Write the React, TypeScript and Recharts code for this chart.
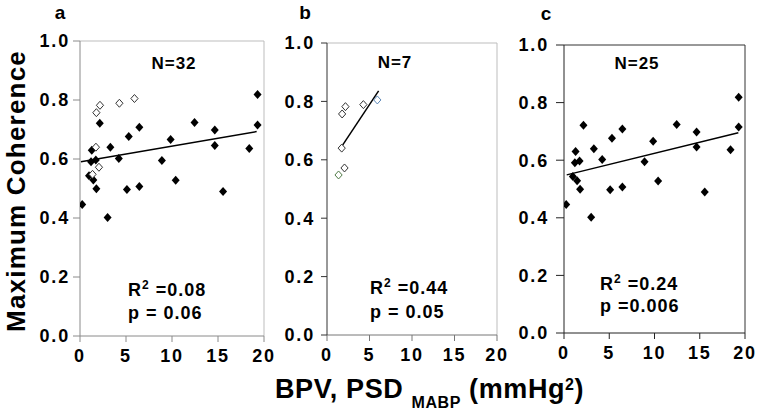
import { ScatterChart, Scatter, XAxis, YAxis, ReferenceLine, Cell } from "recharts";

const FONT = "'Liberation Sans', Arial, Helvetica, sans-serif";

const xTicks = [0, 5, 10, 15, 20];
const yTicks = [0, 0.2, 0.4, 0.6, 0.8, 1.0];

// filled diamonds (N=25), same subjects in panels a and c
const filledBpv = [
  0.24, 3.0, 1.28, 1.2, 1.72, 0.98, 1.45, 1.78, 2.15, 3.3, 4.22, 5.1, 5.3,
  6.45, 6.45, 8.9, 9.85, 10.4, 12.45, 14.65, 14.65, 15.55, 18.4, 19.3, 19.3,
];
const filledCoh = [
  0.446, 0.402, 0.63, 0.591, 0.597, 0.543, 0.529, 0.499, 0.721, 0.64, 0.602,
  0.497, 0.676, 0.708, 0.507, 0.595, 0.666, 0.528, 0.724, 0.698, 0.646, 0.49,
  0.636, 0.819, 0.715,
];

// open diamonds (N=7), panels a and b
const openBpv = [1.78, 2.17, 4.28, 5.92, 1.73, 2.06, 1.36];
const openCoh = [0.757, 0.782, 0.789, 0.805, 0.64, 0.572, 0.548];
const openStrokeB = ["#333", "#333", "#333", "#5b87b8", "#333", "#333", "#4f7a45"];

// regression line end points
const fitAX = [0.1, 19.2];
const fitAY = [0.591, 0.693];
const fitBX = [1.6, 6.07];
const fitBY = [0.64, 0.836];
const fitCX = [0.3, 19.26];
const fitCY = [0.549, 0.695];

const filledData = filledBpv.map((x, i) => ({ x, y: filledCoh[i] }));
const openData = openBpv.map((x, i) => ({ x, y: openCoh[i] }));

const FilledDiamond = (p: any) => (
  <path
    d={`M${p.cx},${p.cy - 4.5}L${p.cx + 4},${p.cy}L${p.cx},${p.cy + 4.5}L${p.cx - 4},${p.cy}Z`}
    fill="#000"
  />
);

const OpenDiamond = (p: any) => (
  <path
    d={`M${p.cx},${p.cy - 4}L${p.cx + 3.6},${p.cy}L${p.cx},${p.cy + 4}L${p.cx - 3.6},${p.cy}Z`}
    fill="#fff"
    stroke={p.stroke || "#333"}
    strokeWidth={1}
  />
);

interface PanelProps {
  left: number;
  width: number;
  plotTop: number;
  plotBottom: number;
  plotLeft: number;
  plotRight: number;
  axisColor: string;
  bottomColor: string;
  frameColor: string;
  tickSize: number;
  tickMargin: number;
  filled?: boolean;
  open?: boolean;
  openStrokes?: string[];
  fitX: number[];
  fitY: number[];
}

const HEIGHT = 385;

function Panel(props: PanelProps) {
  const tickStyle = {
    fontFamily: FONT,
    fontWeight: 700,
    fontSize: 18,
    fill: "#000",
    letterSpacing: 1.8,
  };
  return (
    <div style={{ position: "absolute", left: props.left, top: 0 }}>
      <ScatterChart
        width={props.width}
        height={HEIGHT}
        margin={{
          top: props.plotTop,
          right: props.left + props.width - props.plotRight,
          left: 0,
          bottom: 0,
        }}
      >
        <XAxis
          type="number"
          dataKey="x"
          domain={[0, 20]}
          ticks={xTicks}
          allowDataOverflow
          height={HEIGHT - props.plotBottom}
          stroke={props.bottomColor}
          tickSize={6}
          tickMargin={7}
          tick={tickStyle}
        />
        <YAxis
          type="number"
          dataKey="y"
          domain={[0, 1]}
          ticks={yTicks}
          allowDataOverflow
          width={props.plotLeft - props.left}
          stroke={props.axisColor}
          tickSize={props.tickSize}
          tickMargin={props.tickMargin - 2}
          tick={tickStyle}
          tickFormatter={(v: number) => v.toFixed(1)}
        />
        <ReferenceLine y={1} stroke={props.frameColor} strokeWidth={1} />
        <ReferenceLine x={20} stroke={props.frameColor} strokeWidth={1} />
        <ReferenceLine
          segment={[
            { x: props.fitX[0], y: props.fitY[0] },
            { x: props.fitX[1], y: props.fitY[1] },
          ]}
          stroke="#000"
          strokeWidth={1.5}
          ifOverflow="visible"
        />
        {props.filled && (
          <Scatter data={filledData} shape={FilledDiamond} isAnimationActive={false} />
        )}
        {props.open && (
          <Scatter data={openData} shape={OpenDiamond} isAnimationActive={false}>
            {openData.map((_, i) => (
              <Cell key={i} stroke={props.openStrokes ? props.openStrokes[i] : "#333"} />
            ))}
          </Scatter>
        )}
      </ScatterChart>
    </div>
  );
}

export default function App() {
  const t = { fontFamily: FONT, fontWeight: 700, fill: "#000" } as const;
  return (
    <div
      style={{
        position: "absolute",
        left: 0,
        top: 0,
        width: 761,
        height: 420,
        background: "#fff",
        overflow: "hidden",
      }}
    >
      <Panel
        left={0}
        width={280}
        plotLeft={80}
        plotRight={264}
        plotTop={41}
        plotBottom={336}
        axisColor="#8a8a8a"
        bottomColor="#8a8a8a"
        frameColor="#bdbdbd"
        tickSize={7}
        tickMargin={5}
        filled
        open
        fitX={fitAX}
        fitY={fitAY}
      />
      <Panel
        left={250}
        width={260}
        plotLeft={327}
        plotRight={497}
        plotTop={43}
        plotBottom={335}
        axisColor="#333"
        bottomColor="#777"
        frameColor="#bdbdbd"
        tickSize={6}
        tickMargin={8}
        open
        openStrokes={openStrokeB}
        fitX={fitBX}
        fitY={fitBY}
      />
      <Panel
        left={490}
        width={271}
        plotLeft={564}
        plotRight={745}
        plotTop={45}
        plotBottom={333}
        axisColor="#222"
        bottomColor="#222"
        frameColor="#333"
        tickSize={8}
        tickMargin={9}
        filled
        fitX={fitCX}
        fitY={fitCY}
      />
      <svg
        width={761}
        height={420}
        style={{ position: "absolute", left: 0, top: 0, pointerEvents: "none" }}
      >
        <text {...t} x={60} y={19} fontSize={19} textAnchor="middle">a</text>
        <text {...t} x={305} y={19} fontSize={19} textAnchor="middle">b</text>
        <text {...t} x={546} y={20} fontSize={19} textAnchor="middle">c</text>

        <text
          {...t}
          fontSize={26}
          letterSpacing={1.2}
          textAnchor="middle"
          transform="translate(25,191) rotate(-90)"
        >
          Maximum Coherence
        </text>

        <text {...t} x={275} y={398} fontSize={27} letterSpacing={0.6}>
          BPV, PSD <tspan fontSize={16} dy={10}>MABP</tspan>
          <tspan dy={-10}> (mmHg</tspan>
          <tspan fontSize={16} dy={-8}>2</tspan>
          <tspan dy={8}>)</tspan>
        </text>

        <g letterSpacing={1}>
          <text {...t} x={174} y={69} fontSize={17} textAnchor="middle">N=32</text>
          <text {...t} x={395} y={68} fontSize={17} textAnchor="middle">N=7</text>
          <text {...t} x={637} y={69} fontSize={17} textAnchor="middle">N=25</text>

          <text {...t} x={128} y={296} fontSize={18}>
            R<tspan fontSize={12} dy={-7}>2</tspan>
            <tspan dy={7}> =0.08</tspan>
          </text>
          <text {...t} x={128} y={319} fontSize={18}>p = 0.06</text>

          <text {...t} x={370} y={294} fontSize={18}>
            R<tspan fontSize={12} dy={-7}>2</tspan>
            <tspan dy={7}> =0.44</tspan>
          </text>
          <text {...t} x={370} y={318} fontSize={18}>p = 0.05</text>

          <text {...t} x={600} y={290} fontSize={18}>
            R<tspan fontSize={12} dy={-7}>2</tspan>
            <tspan dy={7}> =0.24</tspan>
          </text>
          <text {...t} x={600} y={312} fontSize={18}>p =0.006</text>
        </g>
      </svg>
    </div>
  );
}
